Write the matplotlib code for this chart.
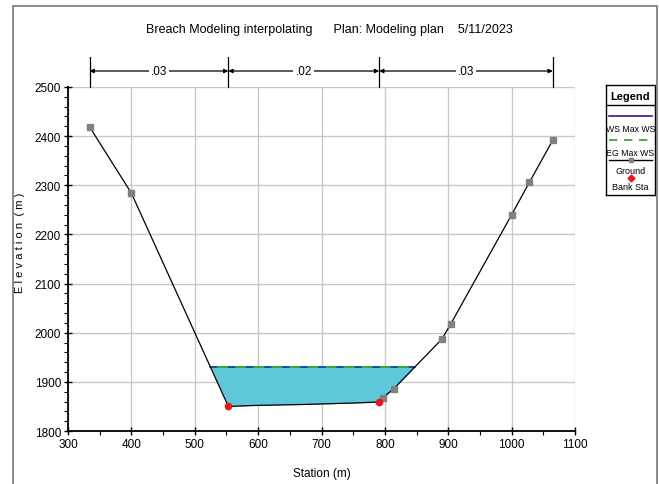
import matplotlib
matplotlib.use("Agg")
import matplotlib.pyplot as plt
from matplotlib.lines import Line2D
from matplotlib.patches import Rectangle, FancyArrowPatch
import numpy as np

plt.rcParams['font.family'] = ['Liberation Sans', 'DejaVu Sans']

title = "Breach Modeling interpolating      Plan: Modeling plan    5/11/2023"
stations = [334, 400, 553, 595, 672, 752, 791, 797, 814, 890, 904, 1000, 1028, 1065]
ground = [2419, 2284, 1850, 1852, 1854, 1857, 1859, 1868, 1886, 1987, 2018, 2240, 2306, 2392]
ground_marker_idx = [0, 1, 7, 8, 9, 10, 11, 12, 13]
bank_sta = [553, 791]
bank_elev = [1850, 1859]
ws_elev = 1931
eg_elev = 1931
mann_breaks = [334, 553, 791, 1065]
mann_n = [".03", ".02", ".03"]
xticks = [300, 400, 500, 600, 700, 800, 900, 1000, 1100]
yticks = [1800, 1900, 2000, 2100, 2200, 2300, 2400, 2500]

W, H = 659, 485
fig = plt.figure(figsize=(W/100, H/100), dpi=100)

# outer frame
fig.patches.append(Rectangle((13/W, -0.1), (657-13)/W, 1 - 7/H + 0.1, transform=fig.transFigure,
                             fill=False, edgecolor='#777777', lw=1.2))

x0, x1 = 68, 575
y0, y1 = 88, 432
ax = fig.add_axes([x0/W, 1 - y1/H, (x1-x0)/W, (y1-y0)/H])
ax.set_xlim(300, 1100)
ax.set_ylim(1800, 2500)
ax.set_xticks(xticks)
ax.set_yticks(yticks)
ax.set_xticks(np.arange(300, 1101, 50), minor=True)
ax.set_yticks(np.arange(1800, 2501, 20), minor=True)
ax.grid(True, which='major', color='#c8c8c8', lw=1.0)
ax.set_axisbelow(True)
for s in ['top', 'right']:
    ax.spines[s].set_visible(False)
ax.spines['left'].set_linewidth(1.3)
ax.spines['bottom'].set_linewidth(1.3)
ax.tick_params(which='major', direction='inout', length=6, width=1.0, labelsize=8.5, pad=2)
ax.tick_params(which='minor', direction='out', length=3, width=0.8)
ax.set_xlabel("Station (m)", fontsize=8.5, labelpad=12)
ax.set_ylabel("E l e v a t i o n  ( m )", fontsize=8)
ax.yaxis.set_label_coords(-0.085, 0.55)

# water fill: between WS and ground where ground below WS
xs = np.array(stations, float)
ys = np.array(ground, float)
fine_x = np.linspace(xs.min(), xs.max(), 4000)
fine_y = np.interp(fine_x, xs, ys)
ax.fill_between(fine_x, fine_y, ws_elev, where=fine_y <= ws_elev, color='#5ec8da', lw=0, zorder=2)
mask = fine_y <= ws_elev
wx = fine_x[mask]
ax.plot([wx.min(), wx.max()], [eg_elev, eg_elev], color='#2ca02c', lw=1.3, zorder=3)
ax.plot([wx.min(), wx.max()], [ws_elev, ws_elev], color='#1f3fbf', lw=1.3, ls=(0, (4, 6)), zorder=3.1)

ax.plot(stations, ground, color='black', lw=0.9, zorder=4)
ax.plot([stations[i] for i in ground_marker_idx], [ground[i] for i in ground_marker_idx],
        ls='none', marker='s', ms=4.5, color='#808080', zorder=5)
ax.plot(bank_sta, bank_elev, ls='none', marker='o', ms=4.5, color='#e8141b', zorder=6)

# title
fig.text(0.5, 1 - 30/H, title, ha='center', va='center', fontsize=9)

# Manning's n dimension arrows
tr = ax.transData
inv = fig.transFigure.inverted()
ay = 1 - 72/H
for xb in mann_breaks:
    xf = inv.transform(tr.transform((xb, 2000)))[0]
    fig.add_artist(Line2D([xf, xf], [1 - 58/H, 1 - 88/H], color='black', lw=0.9, transform=fig.transFigure))
for i, lab in enumerate(mann_n):
    xa = inv.transform(tr.transform((mann_breaks[i], 2000)))[0]
    xb = inv.transform(tr.transform((mann_breaks[i+1], 2000)))[0]
    fig.add_artist(FancyArrowPatch((xa, ay), (xb, ay), transform=fig.transFigure,
                   arrowstyle='<|-|>', mutation_scale=6, color='black', lw=0.9, shrinkA=0, shrinkB=0))
    fig.text((xa+xb)/2, ay, lab, ha='center', va='center', fontsize=8.5,
             bbox=dict(facecolor='white', edgecolor='none', pad=1.5))

# legend
lx0, lx1, ly0, ly1 = 606, 655, 86, 196
lax = fig.add_axes([lx0/W, 1 - ly1/H, (lx1-lx0)/W, (ly1-ly0)/H])
lax.set_xlim(lx0, lx1)
lax.set_ylim(ly1, ly0)
lax.set_xticks([]); lax.set_yticks([])
for s in lax.spines.values():
    s.set_linewidth(1.0)
cx = (lx0+lx1)/2
lax.text(cx, 96.5, "Legend", ha='center', va='center', fontsize=8, fontweight='bold')
lax.plot([lx0, lx1], [106, 106], color='black', lw=1.0)
lax.plot([lx0+3, lx1-3], [117, 117], color='#1f1f9f', lw=1.2)
lax.text(cx, 129, "WS Max WS", ha='center', va='center', fontsize=6.3)
lax.plot([lx0+3, lx1-3], [141, 141], color='#2ca02c', lw=1.2, ls=(0, (5, 4)))
lax.text(cx, 153, "EG Max WS", ha='center', va='center', fontsize=6.3)
lax.plot([lx0+3, lx1-3], [161, 161], color='black', lw=1.0)
lax.plot([cx], [161], marker='s', ms=3.5, color='#808080')
lax.text(cx, 171, "Ground", ha='center', va='center', fontsize=6.5)
lax.plot([cx], [179], marker='D', ms=3.5, color='#e8141b')
lax.text(cx, 188, "Bank Sta", ha='center', va='center', fontsize=6.5)

fig.savefig("out.png", dpi=100)
